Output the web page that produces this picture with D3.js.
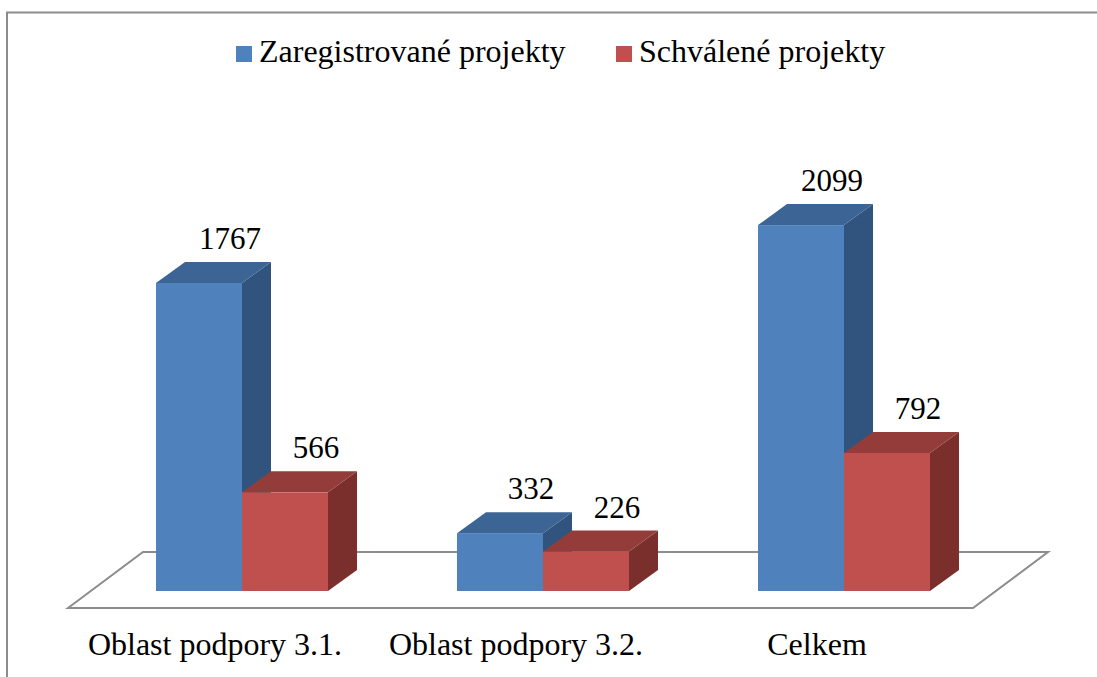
<!DOCTYPE html>
<html>
<head>
<meta charset="utf-8">
<script src="https://cdn.jsdelivr.net/npm/d3@7"></script>
<style>
  html, body { margin: 0; padding: 0; background: #fff; }
  svg { display: block; }
</style>
</head>
<body>
<svg id="chart" width="1097" height="677"></svg>
<script>
const categories = ["Oblast podpory 3.1.", "Oblast podpory 3.2.", "Celkem"];
const seriesNames = ["Zaregistrované projekty", "Schválené projekty"];
const registered = [1767, 332, 2099];
const approved = [566, 226, 792];

const W = 1097, H = 677;
const FONT = "'Liberation Serif', 'Times New Roman', serif";
const svg = d3.select("#chart").attr("font-family", FONT);

const front = ["#4F81BD", "#C0504D"];
const topC = ["#3C6494", "#943C3A"];
const sideC = ["#31547F", "#7B2F2D"];

// geometry
const baseY = 591;
const depthX = 29, depthY = -21;
const floorDX = 75, floorDY = -56;

const x = d3.scaleBand().domain(categories).range([91.5, 994.5])
  .paddingInner(0.4286).paddingOuter(0.2143);
const x1 = d3.scaleBand().domain(seriesNames).range([0, x.bandwidth()]);
const y = d3.scaleLinear().domain([0, 2500]).range([baseY, baseY - 435.8]);

// border
svg.append("path")
  .attr("d", `M7,${H} L7,12.5 L${W},12.5`)
  .attr("fill", "none").attr("stroke", "#8c8c8c").attr("stroke-width", 2);

// floor
const fl = { x0: 68, x1: 973, y: 608 };
svg.append("path")
  .attr("d", `M${fl.x0},${fl.y} L${fl.x0 + floorDX},${fl.y + floorDY} L${fl.x1 + floorDX},${fl.y + floorDY} L${fl.x1},${fl.y} Z`)
  .attr("fill", "#fff").attr("stroke", "#8c8c8c").attr("stroke-width", 2);

// bars
const rows = [];
categories.forEach((c, i) => {
  rows.push({ cat: c, s: 0, v: registered[i] });
  rows.push({ cat: c, s: 1, v: approved[i] });
});

const g = svg.append("g");
rows.forEach(d => {
  const x0 = x(d.cat) + x1(seriesNames[d.s]);
  const bw = x1.bandwidth();
  const yt = y(d.v);
  g.append("path")
    .attr("d", `M${x0 + bw},${baseY} L${x0 + bw + depthX},${baseY + depthY} L${x0 + bw + depthX},${yt + depthY} L${x0 + bw},${yt} Z`)
    .attr("fill", sideC[d.s]);
  g.append("path")
    .attr("d", `M${x0},${yt} L${x0 + depthX},${yt + depthY} L${x0 + bw + depthX},${yt + depthY} L${x0 + bw},${yt} Z`)
    .attr("fill", topC[d.s]);
  g.append("rect")
    .attr("x", x0).attr("y", yt).attr("width", bw).attr("height", baseY - yt)
    .attr("fill", front[d.s]);
});

// value labels
rows.forEach(d => {
  const x0 = x(d.cat) + x1(seriesNames[d.s]);
  svg.append("text")
    .attr("font-family", FONT)
    .attr("x", x0 + x1.bandwidth() / 2 + depthX + 2)
    .attr("y", y(d.v) + depthY - 13)
    .attr("text-anchor", "middle")
    .attr("font-size", 31)
    .attr("fill", "#000")
    .text(d.v);
});

// category labels
categories.forEach(c => {
  svg.append("text")
    .attr("font-family", FONT)
    .attr("x", x(c) + x.bandwidth() / 2 - 27)
    .attr("y", 655)
    .attr("text-anchor", "middle")
    .attr("font-size", 32)
    .attr("fill", "#000")
    .text(c);
});

// legend
const legendPos = [236, 616];
seriesNames.forEach((n, i) => {
  svg.append("rect").attr("x", legendPos[i]).attr("y", 46)
    .attr("width", 16).attr("height", 16).attr("fill", front[i]);
  svg.append("text").attr("font-family", FONT)
    .attr("x", legendPos[i] + 23).attr("y", 62)
    .attr("font-size", 32).attr("fill", "#000").text(n);
});
</script>
</body>
</html>
